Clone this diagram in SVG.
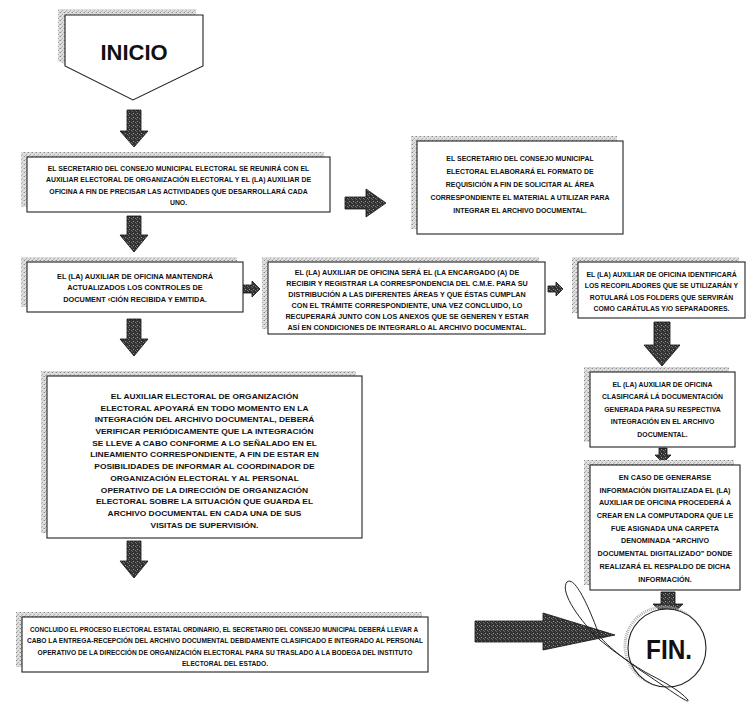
<svg xmlns="http://www.w3.org/2000/svg" width="753" height="706" viewBox="0 0 753 706">
<defs>
<pattern id="shade" width="4" height="4" patternUnits="userSpaceOnUse"><rect width="4" height="4" fill="#dedede"/><rect width="1" height="1" fill="#8a8a8a"/><rect x="2" y="2" width="1" height="1" fill="#a8a8a8"/><rect x="3" y="0" width="1" height="1" fill="#bcbcbc"/><rect x="1" y="3" width="1" height="1" fill="#b5b5b5"/></pattern>
<pattern id="dark" width="4" height="4" patternUnits="userSpaceOnUse"><rect width="4" height="4" fill="#333"/><rect x="1" y="1" width="1" height="1" fill="#999"/><rect x="3" y="2" width="1" height="1" fill="#777"/><rect x="0" y="3" width="1" height="1" fill="#666"/></pattern>
</defs>
<style>
.sh{fill:url(#shade)}
.bx{fill:#fff;stroke:#222;stroke-width:1.1}
.ar{fill:url(#dark);stroke:#111;stroke-width:0.8}
.t{font-family:"Liberation Sans",Arial,sans-serif;font-weight:bold;font-size:8px;fill:#111;text-anchor:middle}
.big{font-family:"Liberation Sans",Arial,sans-serif;font-weight:bold;fill:#111;text-anchor:middle}
</style>
<rect width="753" height="706" fill="#fff"/>

<g id="inicio">
<polygon class="sh" points="58,9 196,9 196,61 126,95 58,61"/>
<polygon points="65,15 203,15 203,66 133,100 65,66" fill="#fff" stroke="#222" stroke-width="1.1"/>
<text class="big" x="134" y="60" font-size="22">INICIO</text>
</g>

<g id="connectors">
<path class="ar" d="M127,110 H141 V131 H148 L134,147 L120,131 H127 Z"/>
<path class="ar" d="M127,216 H141 V235 H148 L134,252 L120,235 H127 Z"/>
<path class="ar" d="M345,197 H366 V189 L386,203 L366,217 V209 H345 Z"/>
<path class="ar" d="M243,285 H252 V281 L260,289 L252,297 V293 H243 Z"/>
<path class="ar" d="M548,286 H556 V282 L563,289 L556,296 V292 H548 Z"/>
<path class="ar" d="M127,319 H141 V339 H148 L134,356 L120,339 H127 Z"/>
<path class="ar" d="M654,322 H670 V345 H680 L662,366 L644,345 H654 Z"/>
<path class="ar" d="M659,448 H667 V455 H671 L663,463 L655,455 H659 Z"/>
<path class="ar" d="M127,541 H141 V561 H148 L134,578 L120,561 H127 Z"/>
<path class="ar" d="M661,592 H675 V604 H683 L668,618 L653,604 H661 Z"/>
<path class="ar" d="M475,621 H543 V613 L615,635 L543,650 V642 H475 Z"/>
</g>

<g id="box1">
<rect class="sh" x="21" y="152" width="303" height="55"/>
<rect class="bx" x="27" y="157" width="303" height="55"/>
<g transform="translate(178.5 0) scale(0.86 1)">
<text class="t" x="0" y="171">EL SECRETARIO DEL CONSEJO MUNICIPAL ELECTORAL SE REUNIRÁ CON EL</text>
<text class="t" x="0" y="182.5">AUXILIAR ELECTORAL DE ORGANIZACIÓN ELECTORAL Y EL (LA) AUXILIAR DE</text>
<text class="t" x="0" y="194">OFICINA A FIN DE PRECISAR LAS ACTIVIDADES QUE DESARROLLARÁ CADA</text>
<text class="t" x="0" y="205.5">UNO.</text>
</g>
</g>

<g id="box2">
<rect class="sh" x="411" y="136" width="206" height="93"/>
<rect class="bx" x="417" y="141" width="206" height="93"/>
<g transform="translate(520 0) scale(0.87 1)">
<text class="t" x="0" y="161">EL SECRETARIO DEL CONSEJO MUNICIPAL</text>
<text class="t" x="0" y="174">ELECTORAL ELABORARÁ EL FORMATO DE</text>
<text class="t" x="0" y="187">REQUISICIÓN A FIN DE SOLICITAR AL ÁREA</text>
<text class="t" x="0" y="200">CORRESPONDIENTE EL MATERIAL A UTILIZAR PARA</text>
<text class="t" x="0" y="213">INTEGRAR EL ARCHIVO DOCUMENTAL.</text>
</g>
</g>

<g id="box3">
<rect class="sh" x="21" y="257" width="216" height="50"/>
<rect class="bx" x="27" y="262" width="216" height="50"/>
<g transform="translate(135 0) scale(0.92 1)">
<text class="t" x="0" y="279" font-size="9">EL (LA) AUXILIAR DE OFICINA MANTENDRÁ</text>
<text class="t" x="0" y="290.5" font-size="9">ACTUALIZADOS LOS CONTROLES DE</text>
<text class="t" x="0" y="302" font-size="9">DOCUMENT ‹CIÓN RECIBIDA Y EMITIDA.</text>
</g>
</g>

<g id="box4">
<rect class="sh" x="262" y="257" width="277" height="72"/>
<rect class="bx" x="268" y="262" width="277" height="72"/>
<g transform="translate(407 0) scale(0.9 1)">
<text class="t" x="0" y="275" font-size="8.5">EL (LA) AUXILIAR DE OFICINA SERÁ EL (LA ENCARGADO (A) DE</text>
<text class="t" x="0" y="286" font-size="8.5">RECIBIR Y REGISTRAR LA CORRESPONDENCIA DEL C.M.E. PARA SU</text>
<text class="t" x="0" y="297" font-size="8.5">DISTRIBUCIÓN A LAS DIFERENTES ÁREAS Y QUE ÉSTAS CUMPLAN</text>
<text class="t" x="0" y="308" font-size="8.5">CON EL TRÁMITE CORRESPONDIENTE, UNA VEZ CONCLUIDO, LO</text>
<text class="t" x="0" y="319" font-size="8.5">RECUPERARÁ JUNTO CON LOS ANEXOS QUE SE GENEREN Y ESTAR</text>
<text class="t" x="0" y="330" font-size="8.5">ASÍ EN CONDICIONES DE INTEGRARLO AL ARCHIVO DOCUMENTAL.</text>
</g>
</g>

<g id="box5">
<rect class="sh" x="572" y="257" width="167" height="56"/>
<rect class="bx" x="578" y="262" width="167" height="56"/>
<g transform="translate(661.5 0) scale(0.86 1)">
<text class="t" x="0" y="277">EL (LA) AUXILIAR DE OFICINA IDENTIFICARÁ</text>
<text class="t" x="0" y="288.5">LOS RECOPILADORES QUE SE UTILIZARÁN Y</text>
<text class="t" x="0" y="300">ROTULARÁ LOS FOLDERS QUE SERVIRÁN</text>
<text class="t" x="0" y="311.5">COMO CARÁTULAS Y/O SEPARADORES.</text>
</g>
</g>

<g id="box6">
<rect class="sh" x="41" y="371" width="315" height="162"/>
<rect class="bx" x="47" y="376" width="315" height="162"/>
<g transform="translate(204.5 0) scale(1.05 1)">
<text class="t" x="0" y="399" font-size="11">EL AUXILIAR  ELECTORAL DE ORGANIZACIÓN</text>
<text class="t" x="0" y="410.7" font-size="11">ELECTORAL APOYARÁ EN TODO MOMENTO EN LA</text>
<text class="t" x="0" y="422.4" font-size="11">INTEGRACIÓN DEL ARCHIVO DOCUMENTAL, DEBERÁ</text>
<text class="t" x="0" y="434.1" font-size="11">VERIFICAR PERIÓDICAMENTE QUE LA INTEGRACIÓN</text>
<text class="t" x="0" y="445.8" font-size="11">SE LLEVE A CABO CONFORME A LO SEÑALADO EN EL</text>
<text class="t" x="0" y="457.5" font-size="11">LINEAMIENTO CORRESPONDIENTE, A FIN DE ESTAR EN</text>
<text class="t" x="0" y="469.2" font-size="11">POSIBILIDADES DE INFORMAR AL COORDINADOR DE</text>
<text class="t" x="0" y="480.9" font-size="11">ORGANIZACIÓN ELECTORAL Y AL PERSONAL</text>
<text class="t" x="0" y="492.6" font-size="11">OPERATIVO DE LA DIRECCIÓN DE ORGANIZACIÓN</text>
<text class="t" x="0" y="504.3" font-size="11">ELECTORAL SOBRE LA SITUACIÓN QUE GUARDA EL</text>
<text class="t" x="0" y="516" font-size="11">ARCHIVO DOCUMENTAL EN CADA UNA DE SUS</text>
<text class="t" x="0" y="527.7" font-size="11">VISITAS DE SUPERVISIÓN.</text>
</g>
</g>

<g id="box7">
<rect class="sh" x="584" y="367" width="145" height="75"/>
<rect class="bx" x="590" y="372" width="145" height="75"/>
<g transform="translate(662.5 0) scale(0.86 1)">
<text class="t" x="0" y="387" font-size="8.5">EL (LA) AUXILIAR DE OFICINA</text>
<text class="t" x="0" y="399.5" font-size="8.5">CLASIFICARÁ LÁ DOCUMENTACIÓN</text>
<text class="t" x="0" y="412" font-size="8.5">GENERADA PARA SU RESPECTIVA</text>
<text class="t" x="0" y="424.5" font-size="8.5">INTEGRACIÓN EN EL ARCHIVO</text>
<text class="t" x="0" y="437" font-size="8.5">DOCUMENTAL.</text>
</g>
</g>

<g id="box8">
<rect class="sh" x="584" y="460" width="150" height="125"/>
<rect class="bx" x="590" y="465" width="150" height="125"/>
<g transform="translate(665 0) scale(0.9 1)">
<text class="t" x="0" y="480" font-size="8.5">EN CASO DE GENERARSE</text>
<text class="t" x="0" y="492.7" font-size="8.5">INFORMACIÓN DIGITALIZADA EL (LA)</text>
<text class="t" x="0" y="505.4" font-size="8.5">AUXILIAR DE OFICINA PROCEDERÁ A</text>
<text class="t" x="0" y="518.1" font-size="8.5">CREAR EN LA COMPUTADORA QUE LE</text>
<text class="t" x="0" y="530.8" font-size="8.5">FUE ASIGNADA UNA CARPETA</text>
<text class="t" x="0" y="543.5" font-size="8.5">DENOMINADA “ARCHIVO</text>
<text class="t" x="0" y="556.2" font-size="8.5">DOCUMENTAL DIGITALIZADO” DONDE</text>
<text class="t" x="0" y="568.9" font-size="8.5">REALIZARÁ EL RESPALDO DE DICHA</text>
<text class="t" x="0" y="581.6" font-size="8.5">INFORMACIÓN.</text>
</g>
</g>

<g id="box9">
<rect class="sh" x="16" y="612" width="406" height="55"/>
<rect class="bx" x="22" y="617" width="406" height="55"/>
<text class="t" x="30" y="632" style="text-anchor:start" textLength="388" lengthAdjust="spacingAndGlyphs">CONCLUIDO EL PROCESO ELECTORAL ESTATAL ORDINARIO, EL SECRETARIO DEL CONSEJO MUNICIPAL DEBERÁ LLEVAR    A</text>
<g transform="translate(225 0) scale(0.83 1)">
<text class="t" x="0" y="643.5">CABO LA ENTREGA-RECEPCIÓN DEL ARCHIVO DOCUMENTAL DEBIDAMENTE CLASIFICADO E INTEGRADO AL PERSONAL</text>
<text class="t" x="0" y="655">OPERATIVO DE LA DIRECCIÓN DE ORGANIZACIÓN ELECTORAL PARA SU TRASLADO A LA BODEGA DEL INSTITUTO</text>
<text class="t" x="0" y="666.5">ELECTORAL DEL ESTADO.</text>
</g>
</g>

<g id="fin">
<ellipse cx="664" cy="646" rx="39" ry="39" fill="none" stroke="#b0b0b0" stroke-width="3" stroke-dasharray="1 1"/>
<ellipse cx="667" cy="648" rx="39" ry="39" fill="#fff" stroke="#222" stroke-width="1.1"/>
<text class="big" x="669" y="659" font-size="27" textLength="46" lengthAdjust="spacingAndGlyphs">FIN.</text>
</g>
<path d="M597,637 C575,615 560,590 567,582 C575,575 590,610 598,632 C600,640 615,652 640,670 C670,690 690,705 688,700 C680,690 660,680 645,672 C625,660 605,645 592,633" fill="none" stroke="#222" stroke-width="1"/>
</svg>
